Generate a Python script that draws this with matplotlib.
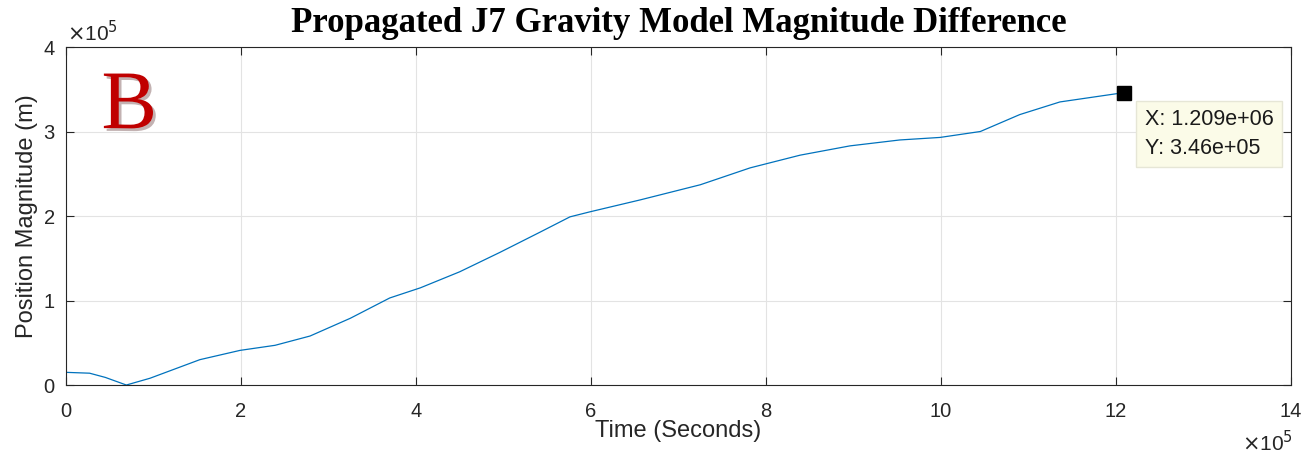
import numpy as np
import matplotlib.pyplot as plt
import matplotlib.patheffects as pe
from matplotlib.ticker import FuncFormatter

# propagated position magnitude difference (time in s, magnitude in m)
time_s = [0.0, 0.27e5, 0.45e5, 0.69e5, 0.96e5, 1.53e5, 1.99e5, 2.39e5, 2.79e5,
          3.25e5, 3.70e5, 4.05e5, 4.50e5, 4.96e5, 5.42e5, 5.76e5, 5.99e5,
          6.56e5, 7.25e5, 7.82e5, 8.39e5, 8.96e5, 9.53e5, 9.99e5, 10.45e5,
          10.90e5, 11.36e5, 12.09e5]
pos_mag = [1.5e4, 1.4e4, 0.9e4, 0.0, 0.8e4, 3.0e4, 4.1e4, 4.7e4, 5.8e4,
           7.9e4, 10.3e4, 11.5e4, 13.4e4, 15.7e4, 18.1e4, 19.9e4, 20.5e4,
           21.9e4, 23.7e4, 25.7e4, 27.2e4, 28.3e4, 29.0e4, 29.3e4, 30.0e4,
           32.0e4, 33.5e4, 34.6e4]

tip_x = 1.209e6
tip_y = 3.46e5

xticks = [0, 2e5, 4e5, 6e5, 8e5, 10e5, 12e5, 14e5]
yticks = [0, 1e5, 2e5, 3e5, 4e5]

plt.rcParams['font.family'] = ['Liberation Sans', 'DejaVu Sans']
dark = '#262626'

fig = plt.figure(figsize=(13.06, 4.55), dpi=100)
ax = fig.add_axes([0.0505, 0.1538, 0.938, 0.7429])

ax.plot(time_s, pos_mag, color=(0.0, 0.447, 0.741), lw=0.9)
ax.plot([tip_x], [tip_y], 's', color='black', ms=10)

ax.set_xlim(0, 14e5)
ax.set_ylim(0, 4e5)
ax.set_xticks(xticks)
ax.set_yticks(yticks)
fmt = FuncFormatter(lambda v, p: '%g' % (v / 1e5))
ax.xaxis.set_major_formatter(fmt)
ax.yaxis.set_major_formatter(fmt)
ax.tick_params(direction='in', length=6, width=0.8, labelsize=14.5,
               colors=dark, top=True, right=True)
ax.tick_params(axis='x', pad=12)
ax.tick_params(axis='y', pad=8)
ax.grid(True, color='#e3e3e3', lw=0.8)
for s in ax.spines.values():
    s.set_color(dark)
    s.set_linewidth(0.8)

ax.set_xlabel('Time (Seconds)', fontsize=17, color=dark, va='center')
ax.set_ylabel('Position Magnitude (m)', fontsize=17, color=dark, va='center')
ax.xaxis.set_label_coords(0.5, -0.135)
ax.yaxis.set_label_coords(-0.032, 0.5)

# exponent labels
ax.text(0.001, 1.018, r'$\times$10$^5$', transform=ax.transAxes, fontsize=15,
        color=dark, ha='left', va='baseline')
ax.text(1.0016, -0.195, r'$\times$10$^5$', transform=ax.transAxes, fontsize=15,
        color=dark, ha='right', va='baseline')

fig.text(0.52, 0.93, 'Propagated J7 Gravity Model Magnitude Difference',
         family='Liberation Serif', weight='bold', fontsize=25,
         ha='center', va='baseline')

ax.text(0.029, 0.76, 'B', transform=ax.transAxes, family='Liberation Serif',
        fontsize=60, color='#c00000', ha='left', va='baseline',
        path_effects=[pe.SimplePatchShadow(offset=(2, -2), alpha=0.3),
                      pe.Normal()])

ax.annotate('X: 1.209e+06\nY: 3.46e+05', xy=(tip_x, tip_y),
            xytext=(15, -12), textcoords='offset points', ha='left', va='top',
            fontsize=15.5, color='#1a1a1a', linespacing=1.45,
            bbox=dict(boxstyle='square,pad=0.4', fc='#fbfbe8', ec='#e6e6d6'))

fig.savefig('out.png', dpi=100)
